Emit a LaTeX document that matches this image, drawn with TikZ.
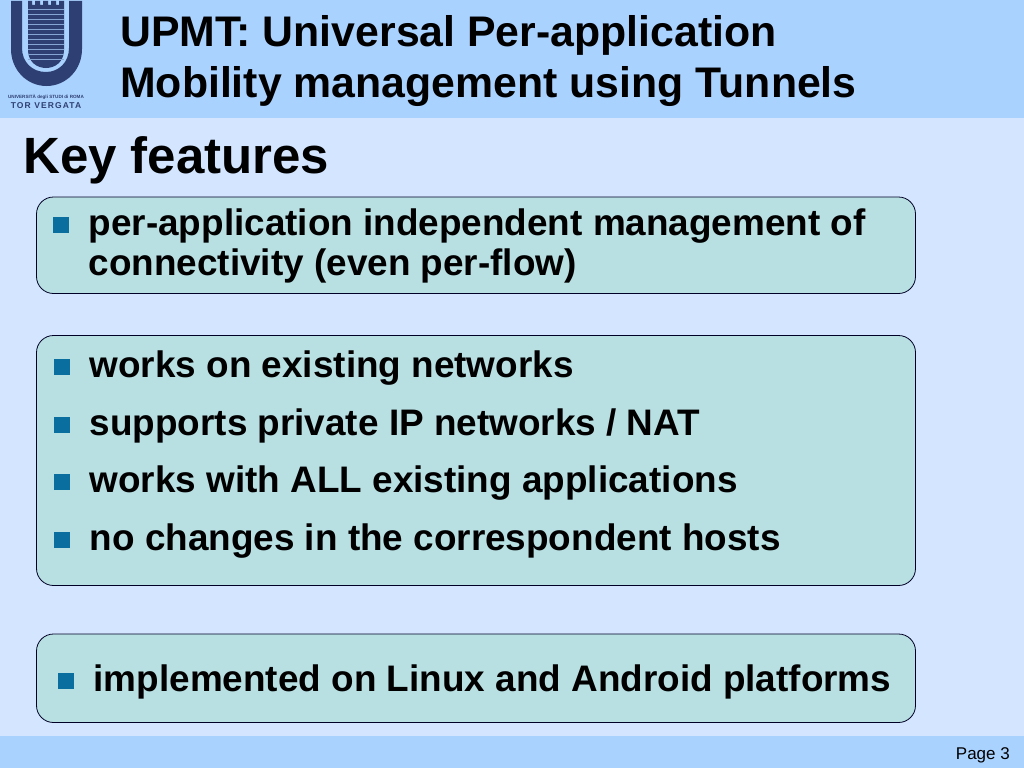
\documentclass[tikz,border=0pt]{standalone}
\usepackage{fontspec}
\setmainfont{Liberation Sans}
\definecolor{bgc}{HTML}{D4E6FF}
\definecolor{barc}{HTML}{AAD2FF}
\definecolor{boxc}{HTML}{B8DFE2}
\definecolor{bulc}{HTML}{0A6E9E}
\definecolor{logoc}{HTML}{2E3F73}
\tikzset{
 x=1pt,y=-1pt,
 fbox/.style={draw=black!85!blue,line width=0.8pt,fill=boxc,rounded corners=17pt},
 ftext/.style={anchor=base west,inner sep=0pt,font=\bfseries\fontsize{36.9}{36.9}\selectfont,text=black},
 ttext/.style={anchor=base west,inner sep=0pt,font=\bfseries\fontsize{42.8}{42.8}\selectfont,text=black},
 bul/.style={fill=bulc},
}
\begin{document}
\begin{tikzpicture}
\useasboundingbox (0,0) rectangle (1024,768);
\fill[bgc] (0,0) rectangle (1024,768);
\fill[barc] (0,0) rectangle (1024,118);
\fill[barc] (0,736) rectangle (1024,768);
% logo
\fill[logoc] (11,1) -- (22,1) -- (22,48) .. controls (22,62) and (32,72) .. (46,72) .. controls (59,72) and (69,62) .. (69,48) -- (69,1) -- (82,1) -- (82,49) .. controls (82,70) and (66,86) .. (46.5,86) .. controls (27,86) and (11,70) .. (11,49) -- cycle;
\fill[logoc] (28,7) -- (28,1) -- (32,1) -- (32,5) -- (35,5) -- (35,1) -- (40,1) -- (40,5) -- (43,5) -- (43,1) -- (48,1) -- (48,5) -- (51,5) -- (51,1) -- (56,1) -- (56,5) -- (59,5) -- (59,1) -- (64,1) -- (64,50) .. controls (64,62) and (55,68) .. (46,68) .. controls (37,68) and (28,62) .. (28,50) -- cycle;
\foreach \i in {0,...,10} {\fill[barc!70!logoc] (28,9+5*\i) rectangle (64,10.2+5*\i);}
\node[anchor=base,inner sep=0pt,font=\bfseries\fontsize{4.6}{5}\selectfont,text=logoc] (logoa) at (46,98) {UNIVERSITÀ degli STUDI di ROMA};
\node[anchor=base,inner sep=0pt,font=\bfseries\fontsize{8.5}{9}\selectfont\addfontfeature{LetterSpace=13},text=logoc] (logob) at (46,108) {TOR VERGATA};
% title
\node[ttext] (t1) at (120,46) {UPMT: Universal Per-application};
\node[ttext] (t2) at (120,97) {Mobility management using Tunnels};
\node[anchor=base west,inner sep=0pt,font=\bfseries\fontsize{51}{51}\selectfont] (kf) at (23,173) {Key features};
% boxes
\draw[fbox] (36.5,197) rectangle (915.5,293.5);
\draw[fbox] (36.5,335.5) rectangle (915.5,585.5);
\draw[fbox] (36.5,634) rectangle (915.5,722.5);
% bullets
\fill[bul] (52.5,216.5) rectangle (68.5,232.5);
\fill[bul] (53.5,358.5) rectangle (69.5,374.5);
\fill[bul] (53.5,416.5) rectangle (69.5,432.5);
\fill[bul] (53.5,474) rectangle (69.5,490);
\fill[bul] (53.5,531.5) rectangle (69.5,547.5);
\fill[bul] (57.5,672.5) rectangle (73.5,688.5);
% text
\node[ftext] (a1) at (88.5,235) {per-application independent management of};
\node[ftext] (a2) at (88.5,275) {connectivity (even per-flow)};
\node[ftext] (b1) at (89.5,377) {works on existing networks};
\node[ftext] (b2) at (89.5,435) {supports private IP networks / NAT};
\node[ftext] (b3) at (89.5,492) {works with ALL existing applications};
\node[ftext] (b4) at (89.5,550) {no changes in the correspondent hosts};
\node[ftext] (c1) at (93.5,691) {implemented on Linux and Android platforms};
\node[anchor=base east,inner sep=0pt,font=\fontsize{17}{17}\selectfont] (pg) at (1010,759) {Page 3};
\end{tikzpicture}
\end{document}
